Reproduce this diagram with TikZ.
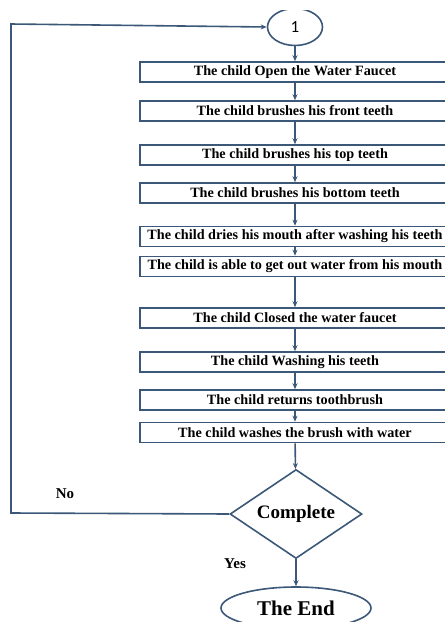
\documentclass[tikz,border=0pt]{standalone}
\usepackage{fontspec}
\setmainfont{Liberation Serif}
\newfontfamily\numfont{Carlito}
\usetikzlibrary{shapes.geometric,arrows.meta}
\definecolor{lc}{RGB}{59,88,120}
\begin{document}
\begin{tikzpicture}[x=1pt,y=-1pt,
  stepbox/.style={draw=lc,line width=1.6pt,minimum width=310,minimum height=20,inner sep=0pt,font=\bfseries\fontsize{14.2}{15}\selectfont},
  conn/.style={draw=lc,line width=1.6pt,-{Stealth[length=6pt,width=5pt]}},
  lbl/.style={font=\bfseries\fontsize{15}{16}\selectfont}]
\useasboundingbox (0,0) rectangle (445,622);
\clip (0,10) rectangle (445,622);
\node[draw=lc,line width=1.6pt,ellipse,minimum width=55,minimum height=37,inner sep=0pt,font=\numfont\fontsize{17}{18}\selectfont] (c1) at (295,27) {1};
\node[stepbox] (b1) at (295,72) {The child Open the Water Faucet};
\node[stepbox] (b2) at (295,111) {The child brushes his front teeth};
\node[stepbox] (b3) at (295,155) {The child brushes his top teeth};
\node[stepbox] (b4) at (295,193) {The child brushes his bottom teeth};
\node[stepbox] (b5) at (295,236.5) {The child dries his mouth after washing his teeth};
\node[stepbox] (b6) at (295,266.5) {The child is able to get out water from his mouth};
\node[stepbox] (b7) at (295,318) {The child Closed the water faucet};
\node[stepbox] (b8) at (295,362) {The child Washing his teeth};
\node[stepbox] (b9) at (295,400) {The child returns toothbrush};
\node[stepbox] (b10) at (295,432.5) {The child washes the brush with water};
\node[draw=lc,line width=1.6pt,diamond,minimum width=132,minimum height=89,inner sep=0pt,aspect=1.48,font=\bfseries\fontsize{19}{20}\selectfont] (dc) at (296,514) {Complete};
\node[draw=lc,line width=1.6pt,ellipse,minimum width=150,minimum height=42,inner sep=0pt,font=\bfseries\fontsize{21}{22}\selectfont] (end) at (296,608) {The End};
\coordinate (lt) at (11,24);
\coordinate (lb) at (11,513);
\draw[conn] (c1) -- (b1);
\draw[conn] (b1) -- (b2);
\draw[conn] (b2) -- (b3);
\draw[conn] (b3) -- (b4);
\draw[conn] (b4) -- (b5);
\draw[conn] (b5) -- (b6);
\draw[conn] (b6) -- (b7);
\draw[conn] (b7) -- (b8);
\draw[conn] (b8) -- (b9);
\draw[conn] (b9) -- (b10);
\draw[conn] (b10) -- (dc);
\draw[conn] (dc) -- (end);
\draw[conn] (dc.west) -- (lb) -- (lt) -- (c1.west);
\node[lbl] (no) at (65,494) {No};
\node[lbl] (yes) at (235,564) {Yes};
\end{tikzpicture}
\end{document}
